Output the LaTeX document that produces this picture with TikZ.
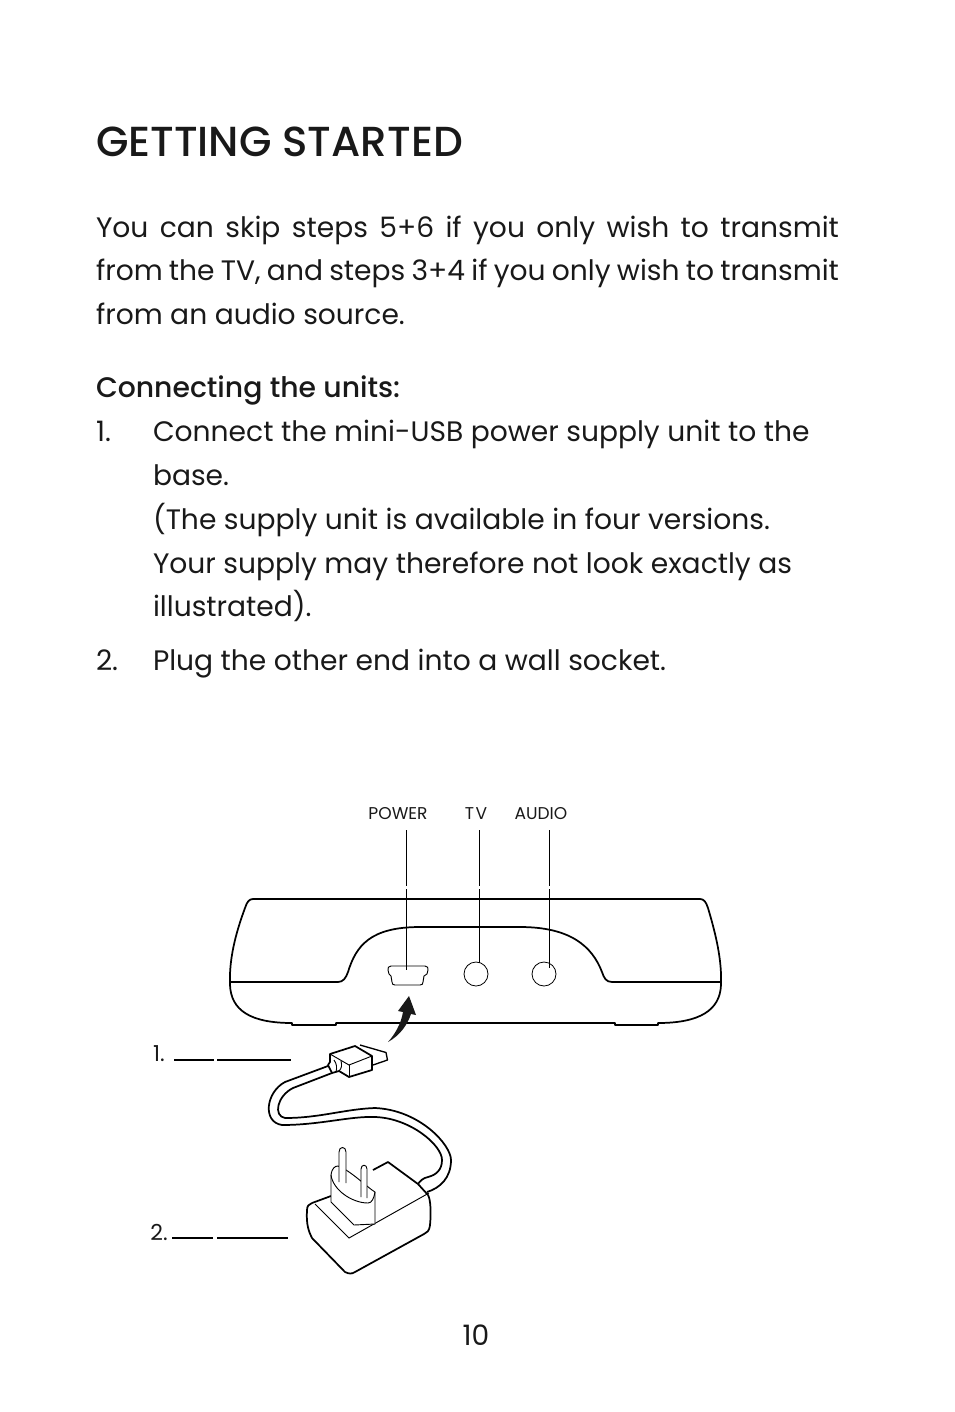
\documentclass[tikz,border=0pt]{standalone}
\usepackage{fontspec}
\setmainfont{Poppins}
\newfontfamily\strongfont{Poppins Medium}
\usepackage{tikz}
\usetikzlibrary{calc}

\begin{document}
\begin{tikzpicture} [
   x=0.75pt, y=-0.75pt,    % Pixel grid of the page, y going down
   ]
% ------------------------------------------------- 
\tikzset{
  base/.style={inner sep=0pt, outer sep=0pt, anchor=base west, text=black!90},
  heading/.style={base, font=\strongfont\fontsize{31.5}{36}\selectfont},
  body/.style={base, font=\fontsize{21.1}{26}\selectfont},
  subhead/.style={base, font=\strongfont\fontsize{21.2}{26}\selectfont},
  tag/.style={base, anchor=base, font=\fontsize{12.8}{14}\selectfont},
  num/.style={base, anchor=base, font=\fontsize{16.5}{18}\selectfont},
  thin line/.style={draw, line width=0.7pt},
  thick line/.style={draw, line width=1.3pt, line join=round},
  lead line/.style={draw, line width=0.9pt},
  jack/.style={draw, circle, line width=0.6pt, minimum size=18pt, inner sep=0pt},
}
    \useasboundingbox (0,0) rectangle (954,1412);

    % page text
    \node [heading] (title) at (96,157) {GETTING STARTED};
    \node [body] (p1) at (96,238) {\makebox[557.25pt][s]{You can skip steps 5+6 if you only wish to transmit}};
    \node [body] (p2) at (96,281) {\makebox[557.25pt][s]{from the TV, and steps 3+4 if you only wish to transmit}};
    \node [body] (p3) at (96,325) {from an audio source.};
    \node [subhead] (sub) at (96,397) {Connecting the units:};
    \node [body] (n1) at (96,441) {1.};
    \node [body] (s1) at (153,441) {Connect the mini-USB power supply unit to the};
    \node [body] (s2) at (153,485) {base.};
    \node [body] (s3) at (153,529) {(The supply unit is available in four versions.};
    \node [body] (s4) at (153,573) {Your supply may therefore not look exactly as};
    \node [body] (s5) at (153,616) {illustrated).};
    \node [body] (n2) at (96,670) {2.};
    \node [body] (s6) at (153,670) {Plug the other end into a wall socket.};
    \node [body, anchor=base] (page) at (476,1345) {10};

    % base unit
    \path [thick line]
      (253,899) -- (700,899) .. controls (704,899) and (706,902) .. (708,908)
      .. controls (716,935) and (722,960) .. (721,985)
      .. controls (720,1010) and (700,1023) .. (658,1023)
      -- (658,1025) -- (615,1025) -- (615,1023) -- (336,1023) -- (336,1025) -- (292,1025) -- (292,1023)
      .. controls (250,1023) and (231,1010) .. (230,985)
      .. controls (229,960) and (235,935) .. (245,908)
      .. controls (247,902) and (249,899) .. (253,899) -- cycle;
    \path [thick line]
      (231,982) -- (338,982) .. controls (343,982) and (346,978) .. (348,972)
      .. controls (356,946) and (370,927) .. (420,927) -- (520,927)
      .. controls (570,927) and (592,946) .. (602,972)
      .. controls (604,978) and (606,982) .. (612,982) -- (720,982);

    % ports
    \path [thin line] (391,966) -- (425,966) .. controls (428,966) and (428,968) .. (428,970)
      -- (427,974) -- (424,976) -- (423,982) .. controls (423,984) and (422,985) .. (420,985)
      -- (395,985) .. controls (393,985) and (392,984) .. (392,982) -- (391,976) -- (389,974) -- (388,970)
      .. controls (388,968) and (388,966) .. (391,966) -- cycle;
    \node [jack] (jacktv) at (476,974) {};
    \node [jack] (jackaudio) at (544,974) {};

    % labels on top
    \node [tag] (power) at (398,819) {POWER};
    \node [tag] (tv) at (476,819) {T\kern1.2pt V};
    \node [tag] (audio) at (541,819) {AUDIO};
    \coordinate (powertop) at (406.5,830);
    \coordinate (powergapa) at (406.5,886);
    \coordinate (powergapb) at (406.5,889);
    \coordinate (powerend) at (406.5,970);
    \coordinate (tvtop) at (479.5,830);
    \coordinate (tvgapa) at (479.5,886);
    \coordinate (tvgapb) at (479.5,889);
    \coordinate (tvend) at (479.5,963);
    \coordinate (audiotop) at (549.5,830);
    \coordinate (audiogapa) at (549.5,886);
    \coordinate (audiogapb) at (549.5,889);
    \coordinate (audioend) at (549.5,968);
    \path [thin line] (powertop) -- (powergapa) (powergapb) -- (powerend);
    \path [thin line] (tvtop) -- (tvgapa) (tvgapb) -- (tvend);
    \path [thin line] (audiotop) -- (audiogapa) (audiogapb) -- (audioend);

    % arrow to the port
    \fill [black!90] (409,996) -- (416,1015) -- (411,1014) .. controls (407,1026) and (399,1036) .. (388,1042)
      .. controls (395,1034) and (401,1024) .. (403,1012) -- (398,1011) -- cycle;

    % usb plug
    \path [draw, line width=1pt, line join=round] (360,1045) -- (386,1052.5) -- (387.5,1060) -- (373,1065);
    \path [thick line] (330,1054) -- (355,1046) -- (372,1056) -- (372,1070) -- (349,1077) -- (339,1071)
      -- (332,1073) -- (328,1065) -- (330,1062) -- cycle;
    \path [thin line] (330,1054) -- (349,1065) -- (372,1056);
    \path [thin line] (349,1065) -- (349,1077);
    \path [thin line] (334,1060) .. controls (337,1064) and (337,1068) .. (336,1072);
    \path [thin line] (341,1061) .. controls (342,1065) and (342,1068) .. (339,1071);

    % cable
    \path [thick line] (328,1066) -- (285,1082) .. controls (266,1092) and (262,1122) .. (282,1125)
      .. controls (320,1125) and (350,1116) .. (375,1117)
      .. controls (410,1118) and (442,1145) .. (442,1160)
      .. controls (442,1170) and (436,1175) .. (428,1177) .. controls (423,1178) and (420,1181) .. (418,1184);
    \path [thick line] (332,1073) -- (293,1088) .. controls (277,1096) and (273,1116) .. (285,1118)
      .. controls (320,1118) and (345,1109) .. (375,1108)
      .. controls (420,1110) and (451,1145) .. (451,1160)
      .. controls (451,1178) and (440,1188) .. (427,1192);

    % wall adapter
    \path [thick line] (312,1203) -- (331,1196);
    \path [thick line] (373,1170) -- (388,1162) -- (418,1184) -- (428,1195)
      .. controls (431,1200) and (431,1215) .. (430,1225)
      .. controls (429,1232) and (427,1232) .. (424,1234) -- (355,1272)
      .. controls (352,1274) and (349,1274) .. (345,1272) -- (312,1238)
      .. controls (309,1232) and (306,1225) .. (307,1210)
      .. controls (307,1206) and (309,1204) .. (312,1203);
    \path [thin line] (315,1204) -- (349,1238) -- (429,1193);
    % plug part
    \path [thin line, fill=white] (331,1175) .. controls (332,1168) and (335,1166) .. (338,1166)
      .. controls (350,1170) and (368,1188) .. (375,1192)
      -- (375,1224) -- (354,1225) -- (331,1202) -- cycle;
    \path [thin line] (331,1175) .. controls (333,1190) and (352,1203) .. (368,1203) .. controls (372,1203) and (374,1198) .. (375,1192);
    \path [thin line, fill=white] (339,1182) -- (339,1152) .. controls (339,1146) and (346,1146) .. (346,1152) -- (346,1183);
    \path [thin line, fill=white] (361,1197) -- (361,1169) .. controls (361,1164) and (367,1164) .. (367,1169) -- (367,1198);

    % numbered callouts
    \node [num] (one) at (159,1061) {1.};
    \node [num] (two) at (159,1240) {2.};
    \coordinate (onea) at (174,1060);
    \coordinate (oneb) at (214,1060);
    \coordinate (onec) at (217,1060);
    \coordinate (oned) at (291,1060);
    \coordinate (twoa) at (172,1238);
    \coordinate (twob) at (213,1238);
    \coordinate (twoc) at (217,1238);
    \coordinate (twod) at (288,1238);
    \path [lead line] (onea) -- (oneb) (onec) -- (oned);
    \path [lead line] (twoa) -- (twob) (twoc) -- (twod);

\end{tikzpicture}
\end{document}
